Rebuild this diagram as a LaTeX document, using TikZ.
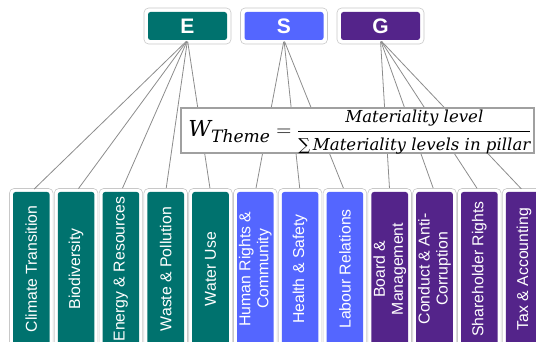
\documentclass[tikz,border=0pt]{standalone}
\usepackage{amsmath}
\usepackage{graphicx}
\usepackage{fontspec}
\setsansfont{Liberation Sans}
\newfontfamily\formulafont{DejaVu Serif}

\definecolor{envcol}{RGB}{0,114,110}
\definecolor{soccol}{RGB}{84,102,255}
\definecolor{govcol}{RGB}{84,36,138}
\definecolor{linkcol}{RGB}{140,140,140}
\definecolor{framecol}{RGB}{200,200,200}
\definecolor{formulaedge}{RGB}{160,160,160}

\newcommand\fsz[1]{\fontsize{#1}{#1}\selectfont}

\begin{document}
\begin{tikzpicture}[x=1pt,y=-1pt,
  pillar/.style={rounded corners=2.5pt, minimum width=79pt, minimum height=28pt,
    inner sep=0pt, text=white, font=\sffamily\bfseries\fontsize{21}{21}\selectfont},
  theme/.style={rotate=90, rounded corners=2.5pt, minimum width=154pt,
    minimum height=36.6pt, inner sep=0pt, text=white, align=center,
    font=\sffamily\fontsize{15.8}{18}\selectfont},
  link/.style={draw=linkcol, line width=0.8pt, shorten <=1.5pt, shorten >=4pt},
  frame/.style={draw=framecol, fill=white, line width=0.6pt, rounded corners=4.5pt},
  formula/.style={draw=formulaedge, fill=white, line width=1.4pt,
    minimum width=353pt, minimum height=45pt, inner sep=0pt}
]
\useasboundingbox (0,0) rectangle (536,342);

% white frames around the pillar and theme boxes
\foreach \cx in {187.5,284,380.5}
  \draw[frame] ({\cx-43.5},8) rectangle ({\cx+43.5},44);
\foreach \i in {0,...,11}{
  \pgfmathsetmacro\cx{31.3+44.8*\i}
  \draw[frame] ({\cx-21.8},188.5) rectangle ({\cx+21.8},352);
}

% pillars
\node[pillar, fill=envcol] (E) at (187.5,26) {E};
\node[pillar, fill=soccol] (S) at (284,26) {S};
\node[pillar, fill=govcol] (G) at (380.5,26) {G};

% themes
\node[theme, fill=envcol] (t1)  at (31.3,269)  {Climate Transition};
\node[theme, fill=envcol] (t2)  at (76.1,269)  {Biodiversity};
\node[theme, fill=envcol] (t3)  at (120.9,269) {Energy \& Resources};
\node[theme, fill=envcol] (t4)  at (165.7,269) {Waste \& Pollution};
\node[theme, fill=envcol] (t5)  at (210.5,269) {Water Use};
\node[theme, fill=soccol] (t6)  at (255.3,269) {Human Rights \&\\Community};
\node[theme, fill=soccol] (t7)  at (300.1,269) {Health \& Safety};
\node[theme, fill=soccol] (t8)  at (344.9,269) {Labour Relations};
\node[theme, fill=govcol] (t9)  at (389.7,269) {Board \&\\Management};
\node[theme, fill=govcol] (t10) at (434.5,269) {Conduct \& Anti-\\Corruption};
\node[theme, fill=govcol] (t11) at (479.3,269) {Shareholder Rights};
\node[theme, fill=govcol] (t12) at (524.1,269) {Tax \& Accounting};

% connectors (the east anchor of a rotated theme is its top edge)
\foreach \t in {t1,t2,t3,t4,t5} \draw[link] (E.south) -- (\t.east);
\foreach \t in {t6,t7,t8} \draw[link] (S.south) -- (\t.east);
\foreach \t in {t9,t10,t11,t12} \draw[link] (G.south) -- (\t.east);

% weighting formula: zero-height box so the fraction bar sits at the box middle
\node[formula] (wt) at (357.5,130.5) {%
  \hspace{5pt}\raisebox{-6pt}[0pt][0pt]{\resizebox{343pt}{\height}{%
  \formulafont\itshape\fsz{22}%
  $\text{W}_{\text{\fsz{17}Theme}}
   =\dfrac{\text{\fsz{16.5}Materiality level}}%
          {\text{\fsz{16.5}∑\,Materiality levels in pillar}}$}}};
\end{tikzpicture}
\end{document}
